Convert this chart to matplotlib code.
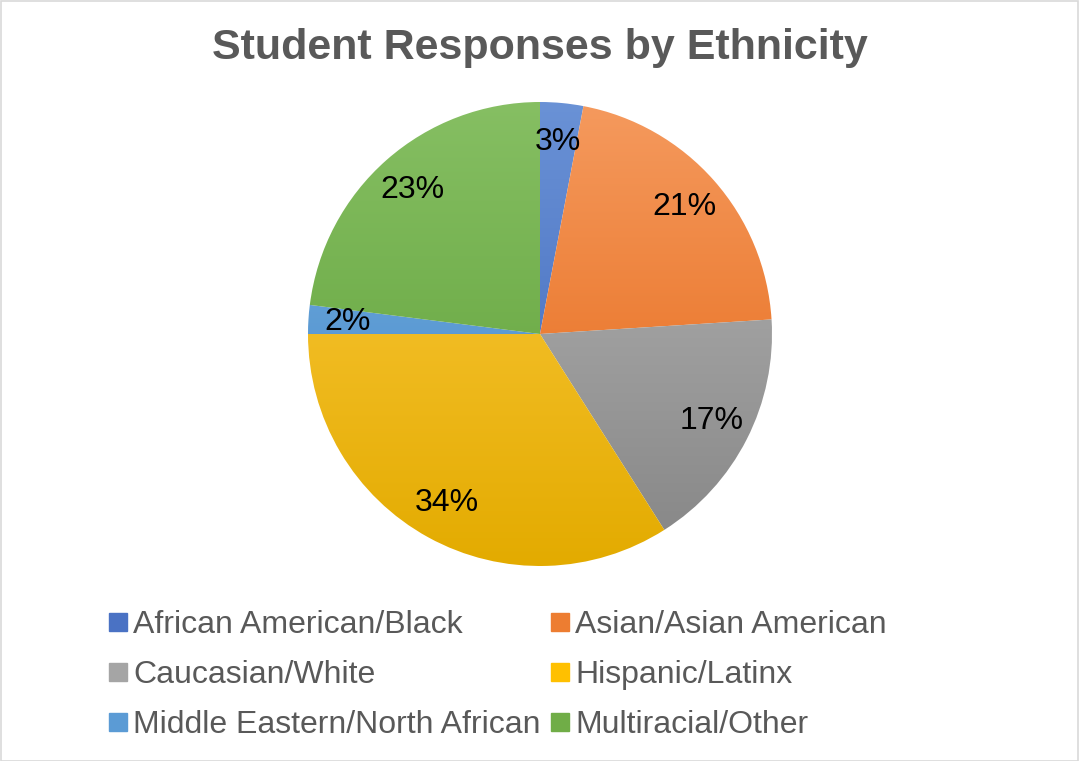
import numpy as np
import matplotlib.pyplot as plt
from matplotlib.colors import LinearSegmentedColormap
from matplotlib.patches import Rectangle
from matplotlib.lines import Line2D

# data
groups = ['African American/Black', 'Asian/Asian American', 'Caucasian/White',
          'Hispanic/Latinx', 'Middle Eastern/North African', 'Multiracial/Other']
shares = [3, 21, 17, 34, 2, 23]
# light (top of pie) and dark (bottom of pie) gradient colours per slice
tops = ['#6A92D6', '#F59A5E', '#B8B8B8', '#FFCD45', '#7AB0E0', '#86BF63']
bottoms = ['#3A62B8', '#E4630F', '#858585', '#E3AB00', '#3E86C8', '#5C9E34']
mids = ['#4A72C4', '#ED7D31', '#A5A5A5', '#FFC000', '#5B9BD5', '#70AD47']

W, H = 1079, 761
fig = plt.figure(figsize=(W / 100, H / 100), dpi=100)
fig.patch.set_facecolor('white')
fig.add_artist(Rectangle((0.5 / W, 0.5 / H), 1 - 1.5 / W, 1 - 1.5 / H, transform=fig.transFigure,
                         fill=False, edgecolor='#D9D9D9', linewidth=1.2))

cx, cy, r = 540, 334, 232
ax = fig.add_axes([(cx - r) / W, (H - cy - r) / H, 2 * r / W, 2 * r / H])
wedges, texts, autotexts = ax.pie(shares, startangle=90, counterclock=False, radius=1,
                                  autopct='%1.0f%%', pctdistance=0.83,
                                  wedgeprops=dict(linewidth=0))
ax.set_xlim(-1, 1)
ax.set_ylim(-1, 1)
ax.set_aspect('equal')
ax.axis('off')

# vertical gradient inside each slice
grad = np.linspace(0, 1, 256).reshape(-1, 1)
for w, t, b in zip(wedges, tops, bottoms):
    cmap = LinearSegmentedColormap.from_list('g', [t, b])
    w.set_facecolor('none')
    im = ax.imshow(grad, extent=[-1, 1, -1, 1], origin='upper', cmap=cmap, aspect='auto', zorder=1)
    im.set_clip_path(w)

for t in autotexts:
    t.set_fontsize(23)
    t.set_color('black')
    t.set_fontfamily('Liberation Sans')
    t.set_zorder(5)

fig.text(cx / W, 1 - 48 / H, 'Student Responses by Ethnicity', ha='center', va='center',
         fontsize=31, fontweight='bold', color='#595959', family='Liberation Sans')

handles = [Line2D([], [], marker='s', linestyle='none', markersize=13,
                  markerfacecolor=c, markeredgecolor=c) for c in mids]
# legend reads row by row, matplotlib fills column by column
order = [0, 2, 4, 1, 3, 5]
leg = fig.legend([handles[i] for i in order], [groups[i] for i in order], ncol=2,
                 loc='upper left', bbox_to_anchor=(93 / W, 1 - 594 / H), frameon=False,
                 prop={'family': 'Liberation Sans', 'size': 23},
                 handlelength=0.55, handletextpad=0.2, columnspacing=0.33,
                 labelspacing=0.63, borderpad=0)
for txt in leg.get_texts():
    txt.set_color('#595959')

fig.savefig('out.png', dpi=100)
